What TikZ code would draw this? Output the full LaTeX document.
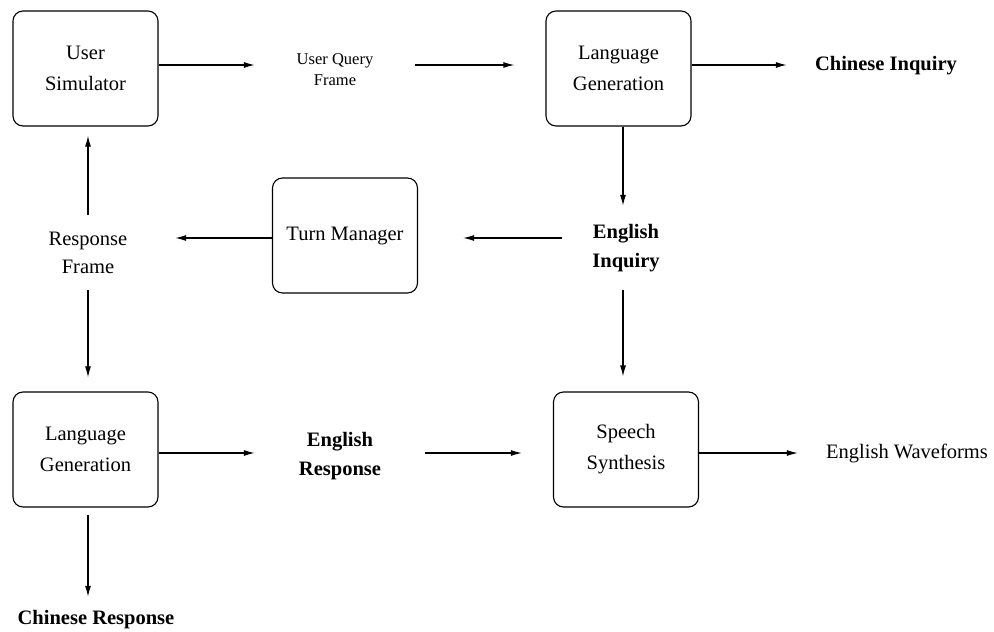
\documentclass[tikz,border=0pt]{standalone}
\usepackage{fontspec}
\setmainfont{Liberation Serif}
\usetikzlibrary{arrows.meta}
\begin{document}
\begin{tikzpicture}[x=1pt,y=-1pt,
  box/.style={draw,line width=1.1pt,rounded corners=10pt,minimum width=145pt,minimum height=115pt,align=center,inner sep=0pt,font=\fontsize{20.5}{31}\selectfont},
  lbl/.style={align=center,inner sep=0pt,font=\fontsize{20.5}{28}\selectfont},
  blbl/.style={align=center,inner sep=0pt,font=\fontsize{20.5}{29}\selectfont\bfseries},
  slbl/.style={align=center,inner sep=0pt,font=\fontsize{16.5}{21}\selectfont},
  arr/.style={line width=1.2pt,-{Latex[length=11pt,width=6pt]}}]
\useasboundingbox (0,0) rectangle (994,632);
% rows and columns of the connectors
\coordinate (r1) at (0,65);
\coordinate (r2) at (0,238);
\coordinate (r3) at (0,453);
\coordinate (c1) at (88,0);
\coordinate (c2) at (623,0);
% boxes
\node[box] (us)  at (85.5,68.5)  {User\\Simulator};
\node[box] (lg1) at (618.5,68.5) {Language\\Generation};
\node[box] (tm)  at (345,235.5)  {Turn Manager};
\node[box] (lg2) at (85.5,449.5) {Language\\Generation};
\node[box] (ss)  at (626,449.5)  {Speech\\Synthesis};
% labels
\node[slbl,minimum width=160pt] (uqf) at (335,70) {User Query\\Frame};
\node[blbl,minimum width=198pt] (ci) at (886,66) {Chinese Inquiry};
\node[blbl,minimum width=128pt,minimum height=84pt] (ei) at (626,248) {English\\Inquiry};
\node[lbl,minimum width=174pt,minimum height=75pt] (rf) at (88,252.5) {Response\\Frame};
\node[blbl,minimum width=170pt] (er) at (340,456) {English\\Response};
\node[lbl] (ew) at (907,453) {English Waveforms};
\node[blbl,minimum height=46pt] (cr) at (96,620) {Chinese Response};
% connectors
\draw[arr] (us.east |- r1) -- (uqf.west |- r1);
\draw[arr,shorten >=31pt] (uqf.east |- r1) -- (lg1.west |- r1);
\draw[arr] (lg1.east |- r1) -- (ci.west |- r1);
\draw[arr] (lg1.south -| c2) -- (ei.north -| c2);
\draw[arr,shorten >=45pt] (ei.west |- r2) -- (tm.east |- r2);
\draw[arr] (tm.west |- r2) -- (rf.east |- r2);
\draw[arr,shorten >=9pt] (rf.north -| c1) -- (us.south -| c1);
\draw[arr,shorten >=14pt] (rf.south -| c1) -- (lg2.north -| c1);
\draw[arr,shorten >=15pt] (ei.south -| c2) -- (ss.north -| c2);
\draw[arr] (lg2.east |- r3) -- (er.west |- r3);
\draw[arr,shorten >=31pt] (er.east |- r3) -- (ss.west |- r3);
\draw[arr,shorten >=28pt] (ss.east |- r3) -- (ew.west |- r3);
\draw[arr,shorten <=7pt] (lg2.south -| c1) -- (cr.north -| c1);
\end{tikzpicture}
\end{document}
